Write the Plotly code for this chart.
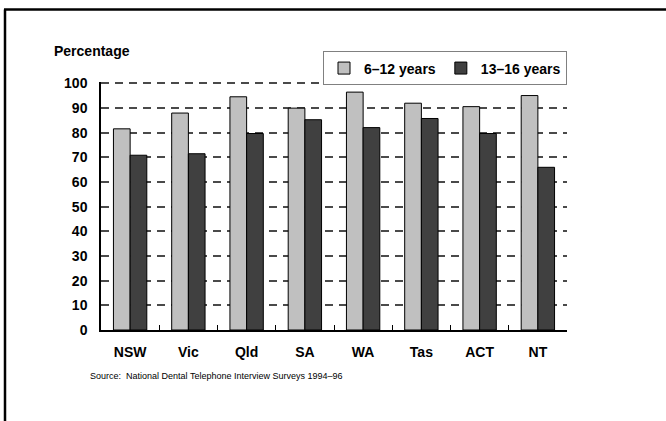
import plotly.graph_objects as go

states = ["NSW", "Vic", "Qld", "SA", "WA", "Tas", "ACT", "NT"]
age_6_12 = [81.6, 88.0, 94.6, 90.0, 96.5, 92.0, 90.6, 95.1]
age_13_16 = [70.9, 71.5, 79.7, 85.3, 82.1, 85.8, 79.7, 66.0]
series_names = ["6–12 years", "13–16 years"]
y_ticks = list(range(0, 101, 10))

W, H = 666, 421
Y_TOP = 100.6
PX_PER_UNIT = 2.47
L, R, B = 101, 567, 330
T = B - Y_TOP * PX_PER_UNIT

def px_x(px):
    return (px - L) / (R - L)

def px_y(py):
    return (B - py) / (B - T)

FONT = "Liberation Sans, Arial, Helvetica, sans-serif"

fig = go.Figure()
fig.add_trace(go.Bar(x=states, y=age_6_12, name=series_names[0],
                     marker=dict(color="#c0c0c0", line=dict(color="#000000", width=1))))
fig.add_trace(go.Bar(x=states, y=age_13_16, name=series_names[1],
                     marker=dict(color="#404040", line=dict(color="#000000", width=1))))

fig.update_layout(
    width=W, height=H,
    margin=dict(l=L, r=W - R, t=T, b=H - B),
    paper_bgcolor="white", plot_bgcolor="white",
    barmode="group", bargap=0.427, bargroupgap=0,
    font=dict(family=FONT, size=14, color="black"),
    showlegend=True,
    legend=dict(orientation="h", x=1, xanchor="right", y=px_y(85), yanchor="bottom",
                bordercolor="#808080", borderwidth=1, bgcolor="white",
                font=dict(family=FONT, size=14, weight="bold"),
                itemwidth=30, traceorder="normal"),
    xaxis=dict(showline=True, linecolor="black", linewidth=1.5,
               ticks="inside", tickson="boundaries", ticklen=5, tickcolor="black",
               showgrid=False, ticklabelstandoff=8,
               tickfont=dict(family=FONT, size=14, weight="bold")),
    yaxis=dict(range=[0, Y_TOP], tickvals=y_ticks, showline=True, linecolor="black",
               linewidth=1.5, ticks="", showgrid=True, gridcolor="#4a4a4a",
               gridwidth=1.5, griddash="8px,6px", zeroline=False,
               ticklabelstandoff=9,
               tickfont=dict(family=FONT, size=14, weight="bold")),
)

fig.add_annotation(text="Percentage", xref="paper", yref="paper",
                   x=px_x(52), y=px_y(50), xanchor="left", yanchor="middle",
                   showarrow=False, font=dict(family=FONT, size=14, weight="bold"))
fig.add_annotation(text="Source:  National Dental Telephone Interview Surveys 1994–96",
                   xref="paper", yref="paper", x=px_x(88), y=px_y(376),
                   xanchor="left", yanchor="middle", showarrow=False,
                   font=dict(family=FONT, size=9))

# frame lines
fig.add_shape(type="line", xref="paper", yref="paper",
              x0=px_x(5), x1=px_x(5), y0=px_y(9), y1=px_y(430),
              line=dict(color="black", width=2.5))
fig.add_shape(type="line", xref="paper", yref="paper",
              x0=px_x(4), x1=px_x(680), y0=px_y(9), y1=px_y(9),
              line=dict(color="black", width=2.5))

fig.write_html("out.html", config={"displayModeBar": False},
               post_script="document.body.style.margin='0';document.body.style.overflow='hidden';")
